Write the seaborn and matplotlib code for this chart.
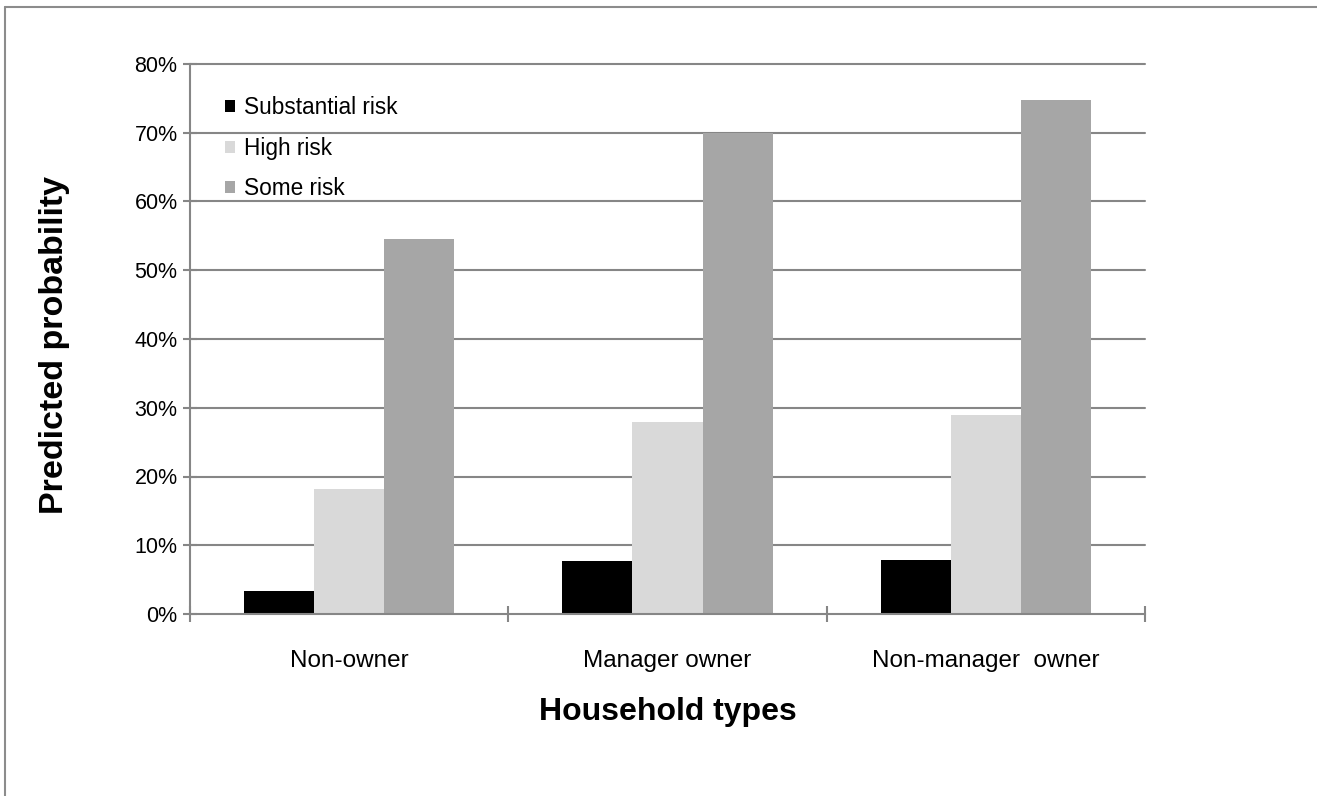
import matplotlib
matplotlib.use("Agg")
import matplotlib.pyplot as plt
import matplotlib.ticker as mticker
from matplotlib.lines import Line2D
import seaborn as sns
import pandas as pd

# ---- data ----
categories = ["Non-owner", "Manager owner", "Non-manager  owner"]
series = ["Substantial risk", "High risk", "Some risk"]
substantial_risk = [0.034, 0.0765, 0.079]
high_risk = [0.182, 0.279, 0.290]
some_risk = [0.546, 0.700, 0.7475]
y_ticks = [0, 0.1, 0.2, 0.3, 0.4, 0.5, 0.6, 0.7, 0.8]
colors = ["#000000", "#D9D9D9", "#A6A6A6"]

df = pd.DataFrame({
    "Household types": categories * 3,
    "Risk": [series[0]] * 3 + [series[1]] * 3 + [series[2]] * 3,
    "Predicted probability": substantial_risk + high_risk + some_risk,
})

sns.set_theme(style="white")
plt.rcParams["font.family"] = ["Liberation Sans", "DejaVu Sans"]
plt.rcParams["text.color"] = "#000000"

W, H = 1317, 796
fig = plt.figure(figsize=(W / 100, H / 100), dpi=100)
ax = fig.add_axes([190 / W, 1 - 614 / H, (1145 - 190) / W, (614 - 64) / H])

grid_color = "#868686"
ax.set_axisbelow(True)
for yv in y_ticks[1:]:
    ax.axhline(yv, color=grid_color, lw=1.5, zorder=0, clip_on=False)

sns.barplot(data=df, x="Household types", y="Predicted probability", hue="Risk",
            hue_order=series, order=categories, palette=colors, width=0.66,
            gap=0, linewidth=0, edgecolor="none", ax=ax, legend=True, zorder=2)

ax.set_xlim(-0.5, 2.5)
ax.set_ylim(0, 0.8)
ax.set_yticks(y_ticks)
ax.yaxis.set_major_formatter(mticker.PercentFormatter(1.0, decimals=0))

for s in ["top", "right"]:
    ax.spines[s].set_visible(False)
for s in ["left", "bottom"]:
    ax.spines[s].set_color(grid_color)
    ax.spines[s].set_linewidth(1.5)

ax.tick_params(axis="y", which="major", direction="inout", length=10, width=1.5,
               color=grid_color, labelsize=15.5, pad=4, left=True, labelcolor="#000000")
ax.set_xticks([0, 1, 2])
ax.set_xticklabels(categories)
ax.tick_params(axis="x", which="major", length=0, labelsize=17.5, pad=26, labelcolor="#000000")
ax.set_xticks([-0.5, 0.5, 1.5, 2.5], minor=True)
ax.tick_params(axis="x", which="minor", direction="inout", length=11, width=1.5,
               color=grid_color, bottom=True)

ax.set_xlabel("Household types", fontsize=23, fontweight="bold", color="#000000")
ax.xaxis.set_label_coords((668 - 190) / 955, (614 - 712) / 550)
ax.xaxis.label.set_va("center")
ax.set_ylabel("Predicted probability", fontsize=24.5, fontweight="bold", color="#000000")
ax.yaxis.set_label_coords((55 - 190) / 955, (614 - 345) / 550)
ax.yaxis.label.set_va("center")

leg = ax.legend(loc="upper left", bbox_to_anchor=((225 - 190) / 955, (614 - 96) / 550),
                frameon=False, fontsize=16.3, handlelength=0.45, handleheight=0.45,
                handletextpad=0.4, labelspacing=0.78, borderpad=0, borderaxespad=0)
for t in leg.get_texts():
    t.set_color("#000000")

# outer chart border (top and left visible)
fig.add_artist(Line2D([5 / W, 5 / W], [0, 1 - 7 / H], transform=fig.transFigure,
                      color="#8C8C8C", lw=1.5))
fig.add_artist(Line2D([5 / W, 1], [1 - 7 / H, 1 - 7 / H], transform=fig.transFigure,
                      color="#8C8C8C", lw=1.5))

fig.savefig("out.png", dpi=100, facecolor="white")
